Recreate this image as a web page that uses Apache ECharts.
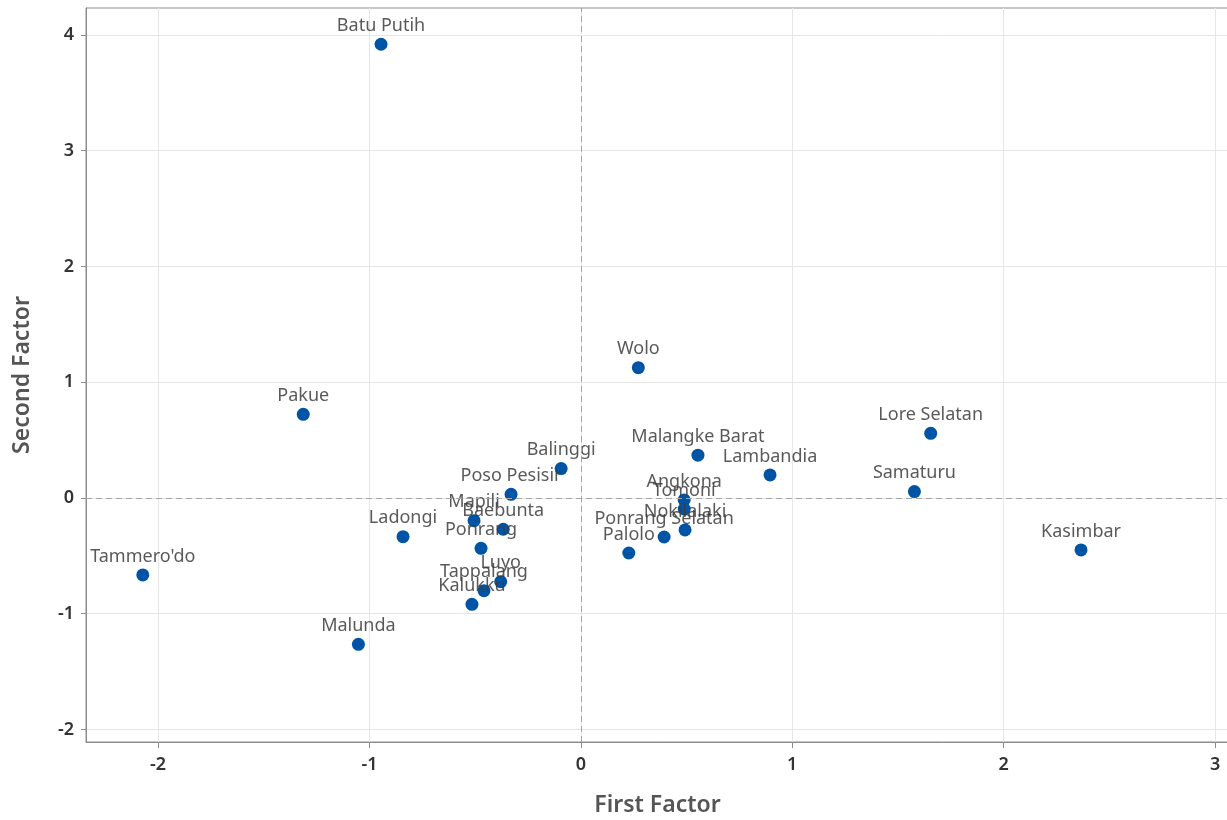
<!DOCTYPE html>
<html>
<head>
<meta charset="utf-8">
<title>First vs Second Factor</title>
<script src="https://cdn.jsdelivr.net/npm/echarts@6/dist/echarts.min.js"></script>
<style>
  html, body { margin: 0; padding: 0; background: #fff; }
  #chart { width: 1227px; height: 820px; }
</style>
</head>
<body>
<div id="chart"></div>
<script>
// district names and their factor scores
const districts = [
  "Batu Putih", "Wolo", "Pakue", "Lore Selatan", "Malangke Barat", "Lambandia",
  "Balinggi", "Poso Pesisir", "Samaturu", "Angkona", "Tomoni", "Nokilalaki",
  "Ponrang Selatan", "Palolo", "Kasimbar", "Tammero'do", "Ladongi", "Malunda",
  "Mapili", "Baebunta", "Ponrang", "Luyo", "Tappalang", "Kalukku"
];
const firstFactor = [
  -0.945, 0.272, -1.313, 1.655, 0.554, 0.895,
  -0.093, -0.330, 1.578, 0.489, 0.489, 0.493,
  0.394, 0.227, 2.366, -2.072, -0.841, -1.052,
  -0.505, -0.367, -0.472, -0.379, -0.458, -0.515
];
const secondFactor = [
  3.92, 1.126, 0.723, 0.559, 0.37, 0.199,
  0.254, 0.032, 0.055, -0.017, -0.095, -0.276,
  -0.337, -0.475, -0.449, -0.665, -0.334, -1.264,
  -0.196, -0.270, -0.435, -0.723, -0.801, -0.919
];

const xTicks = [-2, -1, 0, 1, 2, 3];
const yTicks = [-2, -1, 0, 1, 2, 3, 4];
const xRange = [-2.3406, 3.066];
const yRange = [-2.108, 4.233];

const points = districts.map((name, i) => ({ name, value: [firstFactor[i], secondFactor[i]] }));

const chart = echarts.init(document.getElementById("chart"));

const tickLabel = { color: "#333", fontSize: 18, fontWeight: 600, fontFamily: "Noto Sans" };
const axisName = { color: "#555", fontSize: 23, fontWeight: 600, fontFamily: "Noto Sans" };

chart.setOption({
  animation: false,
  grid: {
    left: 86, top: 8, right: -2, bottom: 78,
    outerBoundsMode: "none",
    containLabel: false,
    show: true, borderColor: "#8c8c8c", borderWidth: 1,
  },
  xAxis: {
    type: "value",
    min: xRange[0],
    max: xRange[1],
    name: "First Factor",
    nameLocation: "middle",
    nameGap: 52,
    nameTextStyle: axisName,
    axisLine: { show: true, onZero: false, lineStyle: { color: "#8c8c8c" } },
    axisTick: { show: true, length: 6, customValues: xTicks, lineStyle: { color: "#8c8c8c" } },
    axisLabel: { ...tickLabel, margin: 14, customValues: xTicks },
    splitLine: { show: true, lineStyle: { color: "#e6e6e6" } },
  },
  yAxis: {
    type: "value",
    min: yRange[0],
    max: yRange[1],
    name: "Second Factor",
    nameLocation: "middle",
    nameGap: 52,
    nameTextStyle: axisName,
    axisLine: { show: true, onZero: false, lineStyle: { color: "#8c8c8c" } },
    axisTick: { show: true, length: 5, customValues: yTicks, lineStyle: { color: "#8c8c8c" } },
    axisLabel: { ...tickLabel, margin: 12, customValues: yTicks },
    splitLine: { show: true, lineStyle: { color: "#e6e6e6" } },
  },
  series: [
    {
      type: "scatter",
      data: points,
      symbolSize: 13,
      itemStyle: { color: "#0054a6", opacity: 1 },
      label: {
        show: true,
        position: "top",
        distance: 3,
        formatter: "{b}",
        color: "rgba(60,60,60,0.85)",
        fontSize: 18,
        fontFamily: "Noto Sans",
      },
      markLine: {
        silent: true,
        symbol: "none",
        label: { show: false },
        lineStyle: { color: "#a6a6a6", type: [6, 4], width: 1 },
        data: [{ xAxis: 0 }, { yAxis: 0 }],
      },
    },
  ],
});
</script>
</body>
</html>
